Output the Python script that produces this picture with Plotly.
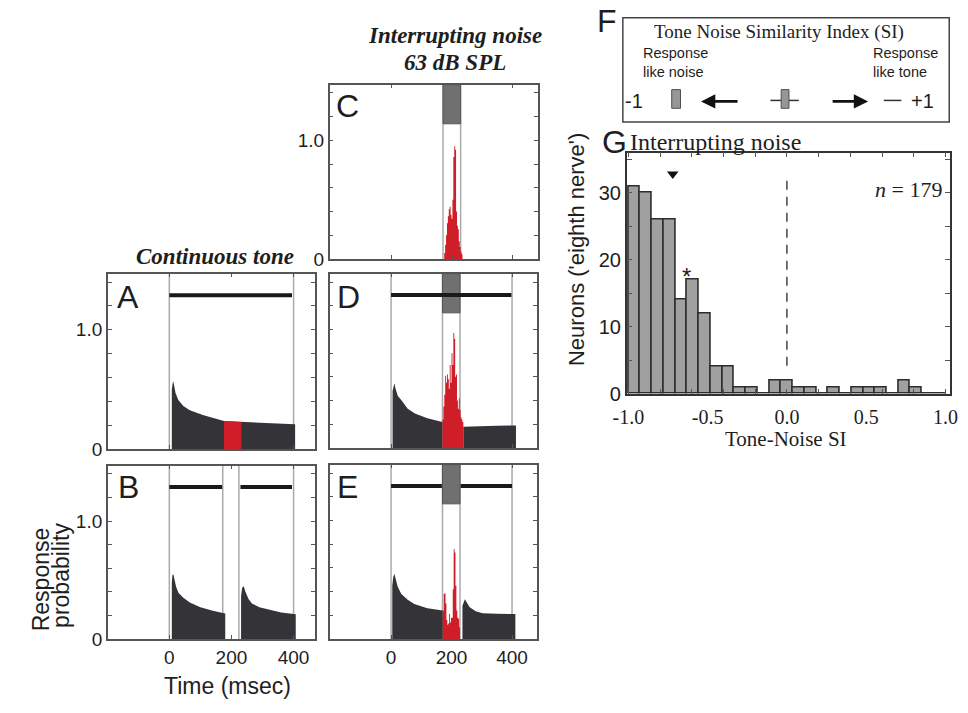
import numpy as np
import plotly.graph_objects as go

W, H = 968, 713

# ---------------- data ----------------
# Panel A: continuous tone (time in ms, response probability)
a_t = [8, 10, 12, 15, 20, 29, 45, 66, 108, 176, 232, 276, 340, 402, 405]
a_v = [0.50, 0.55, 0.57, 0.54, 0.47, 0.41, 0.36, 0.325, 0.285, 0.234, 0.226, 0.22, 0.212, 0.207, 0.207]
a_red_t = [176, 232]
a_red_v = [0.234, 0.226]

# Panel B: tone with a silent gap
b1_t = [8, 10, 13, 17, 22, 30, 45, 66, 100, 140, 180]
b1_v = [0.48, 0.54, 0.55, 0.50, 0.44, 0.39, 0.35, 0.31, 0.27, 0.24, 0.217]
b2_t = [231, 234, 239, 245, 255, 266, 290, 318, 360, 407]
b2_v = [0.36, 0.43, 0.45, 0.40, 0.34, 0.30, 0.27, 0.25, 0.225, 0.21]

# Panel C: noise alone (3 ms bins from 174 ms)
c_red_start = 174
c_red = [0.05, 0.12, 0.20, 0.30, 0.36, 0.42, 0.44, 0.37, 0.34, 0.50,
         0.86, 0.95, 0.92, 0.40, 0.28, 0.25, 0.15, 0.10, 0.06, 0.04]

# Panel D: tone with interrupting noise added
d1_t = [5, 8, 11, 15, 22, 35, 55, 79, 120, 170]
d1_v = [0.48, 0.53, 0.545, 0.50, 0.44, 0.40, 0.33, 0.29, 0.25, 0.22]
d_red_start = 170
d_red = [0.24, 0.35, 0.45, 0.61, 0.55, 0.62, 0.58, 0.50, 0.70, 0.55, 0.80, 0.70,
         0.97, 0.92, 0.60, 0.62, 0.40, 0.33, 0.42, 0.32, 0.26, 0.24, 0.22]
d2_t = [239, 260, 300, 350, 413]
d2_v = [0.18, 0.182, 0.185, 0.188, 0.19]

# Panel E: tone interrupted, gap filled with noise
e1_t = [4, 7, 11, 15, 22, 34, 55, 77, 120, 171]
e1_v = [0.45, 0.52, 0.55, 0.50, 0.44, 0.38, 0.33, 0.295, 0.26, 0.24]
e_red_start = 171
e_red = [0.24, 0.38, 0.385, 0.30, 0.16, 0.12, 0.13, 0.21, 0.14, 0.18,
         0.18, 0.42, 0.76, 0.73, 0.45, 0.24, 0.18, 0.17, 0.10]
e2_t = [236, 240, 244, 250, 260, 280, 303, 350, 411]
e2_v = [0.28, 0.32, 0.336, 0.31, 0.267, 0.235, 0.217, 0.212, 0.21]
red_bin_ms = 3

# stimulus markers
noise_on, noise_off = 170, 228
a_tone = [(0, 395)]
b_tone = [(0, 170), (229, 395)]
d_tone = [(0, 398)]
e_tone = [(0, 168), (230, 400)]
a_lines = [0, 400]
b_lines = [0, 172, 224, 400]
c_lines = [170, 228]
d_lines = [0, 170, 228, 400]
e_lines = [0, 170, 228, 400]

# Panel G: histogram of tone-noise similarity index
si_bin_start = -1.0
si_bin_width = 2 / 27
si_counts = [31, 30, 26, 26, 14, 17, 12, 4, 4, 1, 1, 0, 2, 2, 1, 1, 0, 1, 0,
             1, 1, 1, 0, 2, 1, 0, 0]
si_mean = -0.72
si_mean_y = 32.8
si_ticks = ["-1.0", "-0.5", "0.0", "0.5", "1.0"]
si_tickvals = [-1.0, -0.5, 0.0, 0.5, 1.0]

# ---------------- style ----------------
SANS = "Liberation Sans, Arial, sans-serif"
SERIF = "Liberation Serif, Times New Roman, serif"
TXT = "#1e1e1e"
FRAME = "#555555"
DARK = "rgb(52,52,56)"
RED = "rgb(208,30,40)"
GRAYLINE = "rgb(170,170,170)"
NOISE = "rgb(112,112,112)"


def px(x):
    return x / W


def py(y):
    return 1 - y / H


fig = go.Figure()

panels = {
    "A": dict(ax=1, x=(96, 308), y=(278, 456), xr=[-198, 469], xlab=False, ylab=True),
    "B": dict(ax=2, x=(96, 308), y=(473, 649), xr=[-198, 469], xlab=True, ylab=True),
    "C": dict(ax=3, x=(323, 536), y=(86, 263), xr=[-203, 482], xlab=False, ylab=True),
    "D": dict(ax=4, x=(323, 535), y=(278, 455), xr=[-203, 482], xlab=False, ylab=False),
    "E": dict(ax=5, x=(323, 535), y=(472, 649), xr=[-203, 482], xlab=True, ylab=False),
}


def axn(i):
    return "" if i == 1 else str(i)


def fill(i, t, v, color, shape="linear"):
    fig.add_trace(go.Scatter(x=t, y=v, mode="lines", fill="tozeroy", fillcolor=color,
                             line=dict(width=0, color=color, shape=shape),
                             xaxis="x" + axn(i), yaxis="y" + axn(i), hoverinfo="skip"))


def step(i, start, vals, color):
    t = list(np.arange(len(vals) + 1) * red_bin_ms + start)
    v = list(vals) + [vals[-1]]
    fill(i, t, v, color, shape="hv")


fill(1, a_t, a_v, DARK)
fill(1, a_red_t, a_red_v, RED)
fill(2, b1_t, b1_v, DARK)
fill(2, b2_t, b2_v, DARK)
step(3, c_red_start, c_red, RED)
fill(4, d1_t, d1_v, DARK)
step(4, d_red_start, d_red, RED)
fill(4, d2_t, d2_v, DARK)
fill(5, e1_t, e1_v, DARK)
step(5, e_red_start, e_red, RED)
fill(5, e2_t, e2_v, DARK)

# histogram G
centers = si_bin_start + si_bin_width * (np.arange(len(si_counts)) + 0.5)
fig.add_trace(go.Bar(x=centers, y=si_counts, width=si_bin_width,
                     marker=dict(color="rgb(160,160,160)", line=dict(color="rgb(45,45,45)", width=1.6)),
                     xaxis="x6", yaxis="y6", hoverinfo="skip"))
fig.add_trace(go.Scatter(x=[si_mean], y=[si_mean_y], mode="markers",
                         marker=dict(symbol="triangle-down", size=10, color="#111"),
                         xaxis="x6", yaxis="y6", hoverinfo="skip"))

layout = dict(width=W, height=H, margin=dict(l=0, r=0, t=0, b=0),
              paper_bgcolor="white", plot_bgcolor="white", showlegend=False, bargap=0)

yt = [0, 0.2, 0.4, 0.6, 0.8, 1.0, 1.2, 1.4]
ytt = ["0", "", "", "", "", "1.0", "", ""]
for k, p in panels.items():
    i = p["ax"]
    layout["xaxis" + axn(i)] = dict(
        domain=[px(p["x"][0]), px(p["x"][1])], range=p["xr"], anchor="y" + axn(i),
        tickvals=[0, 200, 400], ticktext=["0", "200", "400"], showticklabels=p["xlab"],
        ticks="inside", ticklen=4, tickcolor=FRAME, showline=True, linecolor=FRAME,
        linewidth=1.5, mirror="ticks", showgrid=False, zeroline=False,
        tickfont=dict(family=SANS, size=19, color=TXT))
    layout["yaxis" + axn(i)] = dict(
        domain=[py(p["y"][1]), py(p["y"][0])], range=[0, 1.47], anchor="x" + axn(i),
        tickvals=yt, ticktext=ytt, showticklabels=p["ylab"],
        ticks="inside", ticklen=4, tickcolor=FRAME, showline=True, linecolor=FRAME,
        linewidth=1.5, mirror="ticks", showgrid=False, zeroline=False,
        tickfont=dict(family=SANS, size=19, color=TXT))

layout["xaxis6"] = dict(
    domain=[px(627), px(958)], range=[-1.01, 1.03], anchor="y6",
    tickvals=si_tickvals, ticktext=si_ticks, ticks="", ticklabelstandoff=4,
    ticklabeloverflow="allow",
    minor=dict(tickvals=[round(v, 1) for v in np.arange(-1.0, 1.01, 0.2)], ticks="inside",
               ticklen=5, tickcolor=FRAME),
    showline=True, linecolor="#333", linewidth=1.6, mirror="ticks", showgrid=False, zeroline=False,
    tickfont=dict(family=SERIF, size=20, color=TXT))
layout["yaxis6"] = dict(
    domain=[py(400), py(155)], range=[0, 36], anchor="x6",
    tickvals=[0, 5, 10, 15, 20, 25, 30, 35], ticktext=["0", "", "10", "", "20", "", "30", ""],
    ticks="inside", ticklen=5, tickcolor=FRAME,
    showline=True, linecolor="#333", linewidth=1.6, mirror="ticks", showgrid=False, zeroline=False,
    tickfont=dict(family=SANS, size=20, color=TXT))

shapes = []
all_lines = {1: a_lines, 2: b_lines, 3: c_lines, 4: d_lines, 5: e_lines}
for i, xs in all_lines.items():
    for xv in xs:
        shapes.append(dict(type="line", xref="x" + axn(i), yref="y" + axn(i) + " domain",
                           x0=xv, x1=xv, y0=0, y1=1, layer="below",
                           line=dict(color=GRAYLINE, width=1.5)))
for i in (3, 4, 5):
    shapes.append(dict(type="rect", xref="x" + axn(i), yref="y" + axn(i),
                       x0=noise_on, x1=noise_off, y0=1.14, y1=1.47,
                       fillcolor=NOISE, line=dict(color="rgb(85,85,85)", width=1)))
for i, segs in {1: a_tone, 2: b_tone, 4: d_tone, 5: e_tone}.items():
    for s0, s1 in segs:
        shapes.append(dict(type="line", xref="x" + axn(i), yref="y" + axn(i),
                           x0=s0, x1=s1, y0=1.29, y1=1.29,
                           line=dict(color="rgb(25,25,25)", width=4)))
# dashed zero line in G
shapes.append(dict(type="line", xref="x6", yref="y6", x0=0, x1=0, y0=4.2, y1=32,
                   line=dict(color="#444", width=1.5, dash="9px,7px")))
# panel F box and symbols
shapes.append(dict(type="rect", xref="paper", yref="paper", x0=px(623), x1=px(957),
                   y0=py(124), y1=py(18), line=dict(color="#444", width=1.5)))
shapes.append(dict(type="rect", xref="paper", yref="paper", x0=px(673), x1=px(682),
                   y0=py(110), y1=py(91), fillcolor="rgb(150,150,150)",
                   line=dict(color="rgb(80,80,80)", width=1)))
shapes.append(dict(type="line", xref="paper", yref="paper", x0=px(774), x1=px(803),
                   y0=py(102), y1=py(102), line=dict(color="#333", width=1.5)))
shapes.append(dict(type="rect", xref="paper", yref="paper", x0=px(785), x1=px(793),
                   y0=py(110), y1=py(91), fillcolor="rgb(150,150,150)",
                   line=dict(color="rgb(80,80,80)", width=1)))
shapes.append(dict(type="line", xref="paper", yref="paper", x0=px(890), x1=px(908),
                   y0=py(102), y1=py(102), line=dict(color="#333", width=1.5)))
layout["shapes"] = shapes

ann = []


def text(t, x, y, size, family=SANS, xa="center", ya="middle", angle=0, **kw):
    d = dict(text=t, x=px(x), y=py(y), xref="paper", yref="paper", showarrow=False,
             xanchor=xa, yanchor=ya, textangle=angle,
             font=dict(family=family, size=size, color=TXT))
    d.update(kw)
    ann.append(d)


for letter, (cx, cy) in {"A": (117, 302), "B": (117, 495), "C": (341, 108),
                         "D": (342, 302), "E": (341, 495), "F": (607, 21),
                         "G": (614, 144)}.items():
    text(letter, cx, cy, 32)

text("<b><i>Continuous tone</i></b>", 206, 261, 23, SERIF)
text("<b><i>Interrupting noise</i></b>", 451, 36, 23, SERIF)
text("<b><i>63 dB SPL</i></b>", 451, 63, 23, SERIF)
text("Response", 28, 588, 23, angle=-90)
text("probability", 48, 584, 23, angle=-90)
text("Time (msec)", 218, 697, 23)

text("Tone Noise Similarity Index (SI)", 783, 33, 19, SERIF)
text("Response<br>like noise", 642, 63, 14.5, xa="left", align="left")
text("Response<br>like tone", 877, 63, 14.5, xa="left", align="left")
text("-1", 634, 103, 20)
text("+1", 930, 103, 20)
ann.append(dict(x=px(703), y=py(103), xref="paper", yref="paper", ax=38, ay=0,
                showarrow=True, arrowhead=2, arrowsize=1.1, arrowwidth=2.6,
                arrowcolor="#111", text=""))
ann.append(dict(x=px(874), y=py(103), xref="paper", yref="paper", ax=-37, ay=0,
                showarrow=True, arrowhead=2, arrowsize=1.1, arrowwidth=2.6,
                arrowcolor="#111", text=""))

text("Interrupting noise", 628, 144, 24, SERIF, xa="left")
text("<i>n</i> = 179", 915, 192, 22, SERIF)
text("Neurons ('eighth nerve')", 575, 253, 22, angle=-90)
text("Tone-Noise SI", 790, 446, 21, SERIF)
ann.append(dict(text="*", x=-0.636, y=17.5, xref="x6", yref="y6", showarrow=False,
                font=dict(family=SANS, size=24, color=TXT)))
layout["annotations"] = ann

fig.update_layout(**layout)
fig.write_html("out.html")
